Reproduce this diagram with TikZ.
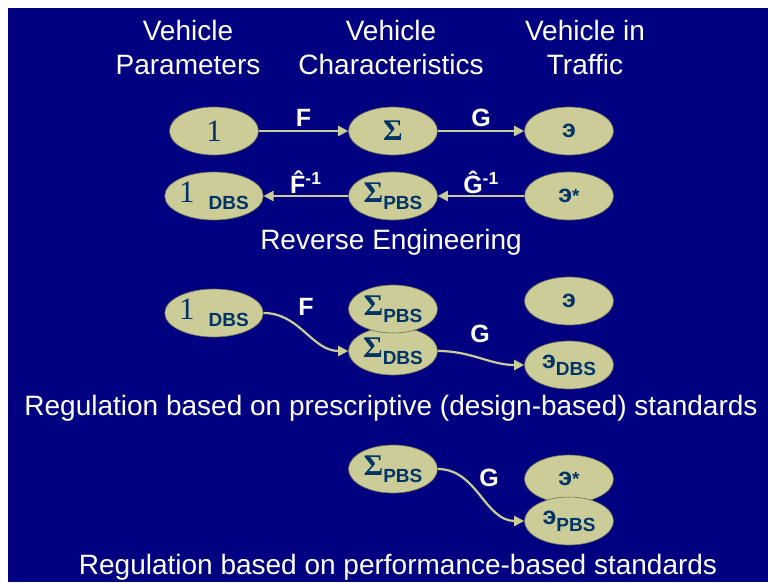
\documentclass[tikz,border=0pt]{standalone}
\usepackage{fontspec}
\setmainfont{Liberation Sans}
\newfontfamily\seriffont{Liberation Serif}
\usetikzlibrary{arrows.meta, positioning, shapes.geometric}
\definecolor{navyback}{RGB}{0, 0, 128}
\definecolor{khaki}{RGB}{204, 204, 153}
\definecolor{inkblue}{RGB}{0, 51, 102}

\newcommand{\sym}[1]{{\seriffont\mdseries\fontsize{31}{31}\selectfont #1}}
\newcommand{\sig}{{\seriffont\bfseries\fontsize{30}{30}\selectfont Σ}}
\newcommand{\ee}{{\fontsize{25}{25}\selectfont э}}
\newcommand{\low}[1]{\raisebox{-7pt}{#1}}

\begin{document}
\begin{tikzpicture}[
    x=1pt, y=1pt,
    state/.style={
        ellipse, fill=khaki, draw=khaki!55!black, line width=0.6pt,
        minimum width=89pt, minimum height=48pt, inner sep=0pt,
        font=\bfseries\fontsize{19}{20}\selectfont, text=inkblue
    },
    arrow/.style={-{Triangle[length=10pt, width=10pt]}, khaki, line width=2.2pt},
    flowlabel/.style={text=white, font=\bfseries\fontsize{25}{26}\selectfont},
    caption/.style={text=white, align=center, font=\fontsize{28}{34}\selectfont}
]

% BACKGROUND
\fill[white] (0, 0) rectangle (768, -582);
\fill[navyback] (8, -8) rectangle (768, -582);
\useasboundingbox (0, 0) rectangle (768, -582);

% HEADINGS
\node[caption] at (188, -47) (hpar) {Vehicle\\Parameters};
\node[caption] at (391, -47) (hchar) {Vehicle\\Characteristics};
\node[caption] at (585, -47) (htraf) {Vehicle in\\Traffic};

% FORWARD MAPPING
\node[state] at (214, -131) (par) {\sym{1}};
\node[state] at (393, -131) (char) {\sig};
\node[state] at (569, -131) (traf) {\ee};

\draw[arrow] (par) -- (char) node[flowlabel, midway, above=0pt] (f1) {F};
\draw[arrow] (char) -- (traf) node[flowlabel, midway, above=0pt] (g1) {G};

% REVERSE ENGINEERING
\node[state] at (214, -196) (parDbs) {\sym{1}\hspace{14pt}\low{DBS}};
\node[state] at (393, -196) (charPbs) {\sig\low{PBS}};
\node[state] at (569, -196) (trafStar) {\ee*};

\draw[arrow] (trafStar) -- (charPbs) node[flowlabel, midway, above=-2pt] (g2) {\^{G}\textsuperscript{-1}};
\draw[arrow] (charPbs) -- (parDbs) node[flowlabel, midway, above=-2pt] (f2) {\^{F}\textsuperscript{-1}};

\node[caption] at (391, -242) (rev) {Reverse Engineering};

% DESIGN-BASED STANDARDS
\node[state] at (214, -313) (dParDbs) {\sym{1}\hspace{14pt}\low{DBS}};
\node[state] at (393, -351) (dCharDbs) {\sig\low{DBS}};
\node[state] at (393, -309) (dCharPbs) {\sig\low{PBS}};
\node[state] at (569, -301) (dTraf) {\ee};
\node[state] at (569, -365) (dTrafDbs) {\ee\low{DBS}};

\draw[arrow] (dParDbs.east) to[out=0, in=180] (dCharDbs.west);
\draw[arrow] (dCharDbs.east) to[out=0, in=180] (dTrafDbs.west);
\node[flowlabel] at (306, -307) (f3) {F};
\node[flowlabel] at (480, -334) (g3) {G};

\node[caption] at (391, -408) (dbs) {Regulation based on prescriptive (design-based) standards};

% PERFORMANCE-BASED STANDARDS
\node[state] at (393, -469) (pCharPbs) {\sig\low{PBS}};
\node[state] at (569, -479) (pTrafStar) {\ee*};
\node[state] at (569, -521) (pTrafPbs) {\ee\low{PBS}};

\draw[arrow] (pCharPbs.east) to[out=0, in=180] (pTrafPbs.west);
\node[flowlabel] at (489, -478) (g4) {G};

\node[caption] at (398, -567) (pbs) {Regulation based on performance-based standards};

\end{tikzpicture}
\end{document}
